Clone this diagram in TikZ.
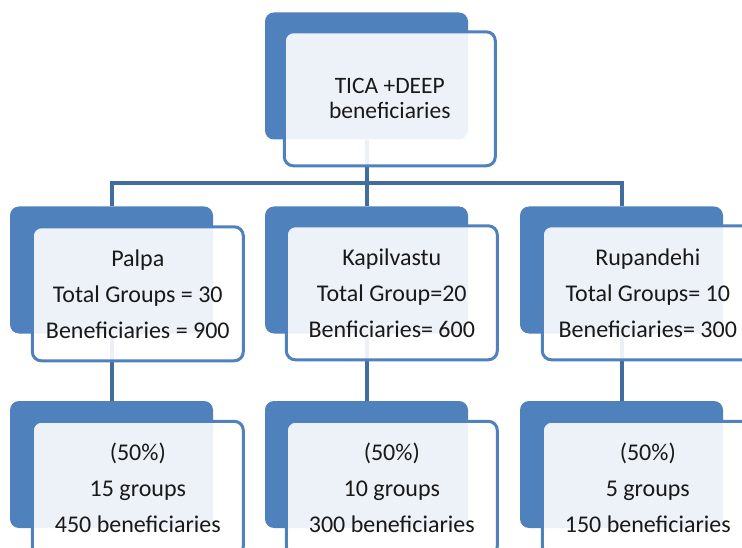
\documentclass[tikz,border=0pt]{standalone}
\usepackage{fontspec}
\setmainfont{Carlito}
\definecolor{boxblue}{RGB}{79,129,189}
\definecolor{lineblue}{RGB}{65,108,158}
\definecolor{inkgray}{RGB}{25,25,25}

\begin{document}
\begin{tikzpicture}[x=1pt,y=-1pt]
      \tikzset{backbox/.style={fill=boxblue, rounded corners=9pt, minimum width=203pt, minimum height=127pt, inner sep=0pt},
               frontbox/.style={draw=boxblue, line width=3pt, fill=white, fill opacity=0.9, text opacity=1,
                 rounded corners=9pt, minimum width=211pt, minimum height=134pt, inner sep=0pt, anchor=north west,
                 align=center, text=inkgray, font=\fontsize{24}{36}\selectfont},
               conn/.style={draw=lineblue, line width=4pt}}
      \useasboundingbox (0,0) rectangle (742,548);
      \clip (0,0) rectangle (742,548);
      % back boxes
      \node[backbox] (topb) at (366.5,76) {};
      \node[backbox] (palb) at (111.5,270) {};
      \node[backbox] (kapb) at (366.5,270) {};
      \node[backbox] (rupb) at (621.5,270) {};
      \node[backbox] (palgb) at (111.5,464.5) {};
      \node[backbox] (kapgb) at (366.5,464.5) {};
      \node[backbox] (rupgb) at (621.5,464.5) {};
      % connectors
      \coordinate (bar) at (0,183);
      \draw[conn] (topb.south) -- (kapb.north);
      \draw[conn] (palb.north) -- (palb.north |- bar) -- (rupb.north |- bar) -- (rupb.north);
      \draw[conn] (palb.south) -- (palgb.north);
      \draw[conn] (kapb.south) -- (kapgb.north);
      \draw[conn] (rupb.south) -- (rupgb.north);
      % front boxes
      \node[frontbox, font=\fontsize{23.5}{25}\selectfont] (topf) at ([shift={(18,18)}]topb.north west) {TICA +DEEP\\beneficiaries};
      \node[frontbox] (palf) at ([shift={(21,19)}]palb.north west) {Palpa\\Total Groups = 30\\Beneficiaries = 900};
      \node[frontbox] (kapf) at ([shift={(20,18)}]kapb.north west) {Kapilvastu\\Total Group=20\\Benficiaries= 600};
      \node[frontbox] (rupf) at ([shift={(21,18)}]rupb.north west) {Rupandehi\\Total Groups= 10\\Beneficiaries= 300};
      \node[frontbox] (palgf) at ([shift={(21,19)}]palgb.north west) {(50\%)\\15 groups\\450 beneficiaries};
      \node[frontbox] (kapgf) at ([shift={(20,19)}]kapgb.north west) {(50\%)\\10 groups\\300 beneficiaries};
      \node[frontbox] (rupgf) at ([shift={(21,19)}]rupgb.north west) {(50\%)\\5 groups\\150 beneficiaries};
\end{tikzpicture}
\end{document}
